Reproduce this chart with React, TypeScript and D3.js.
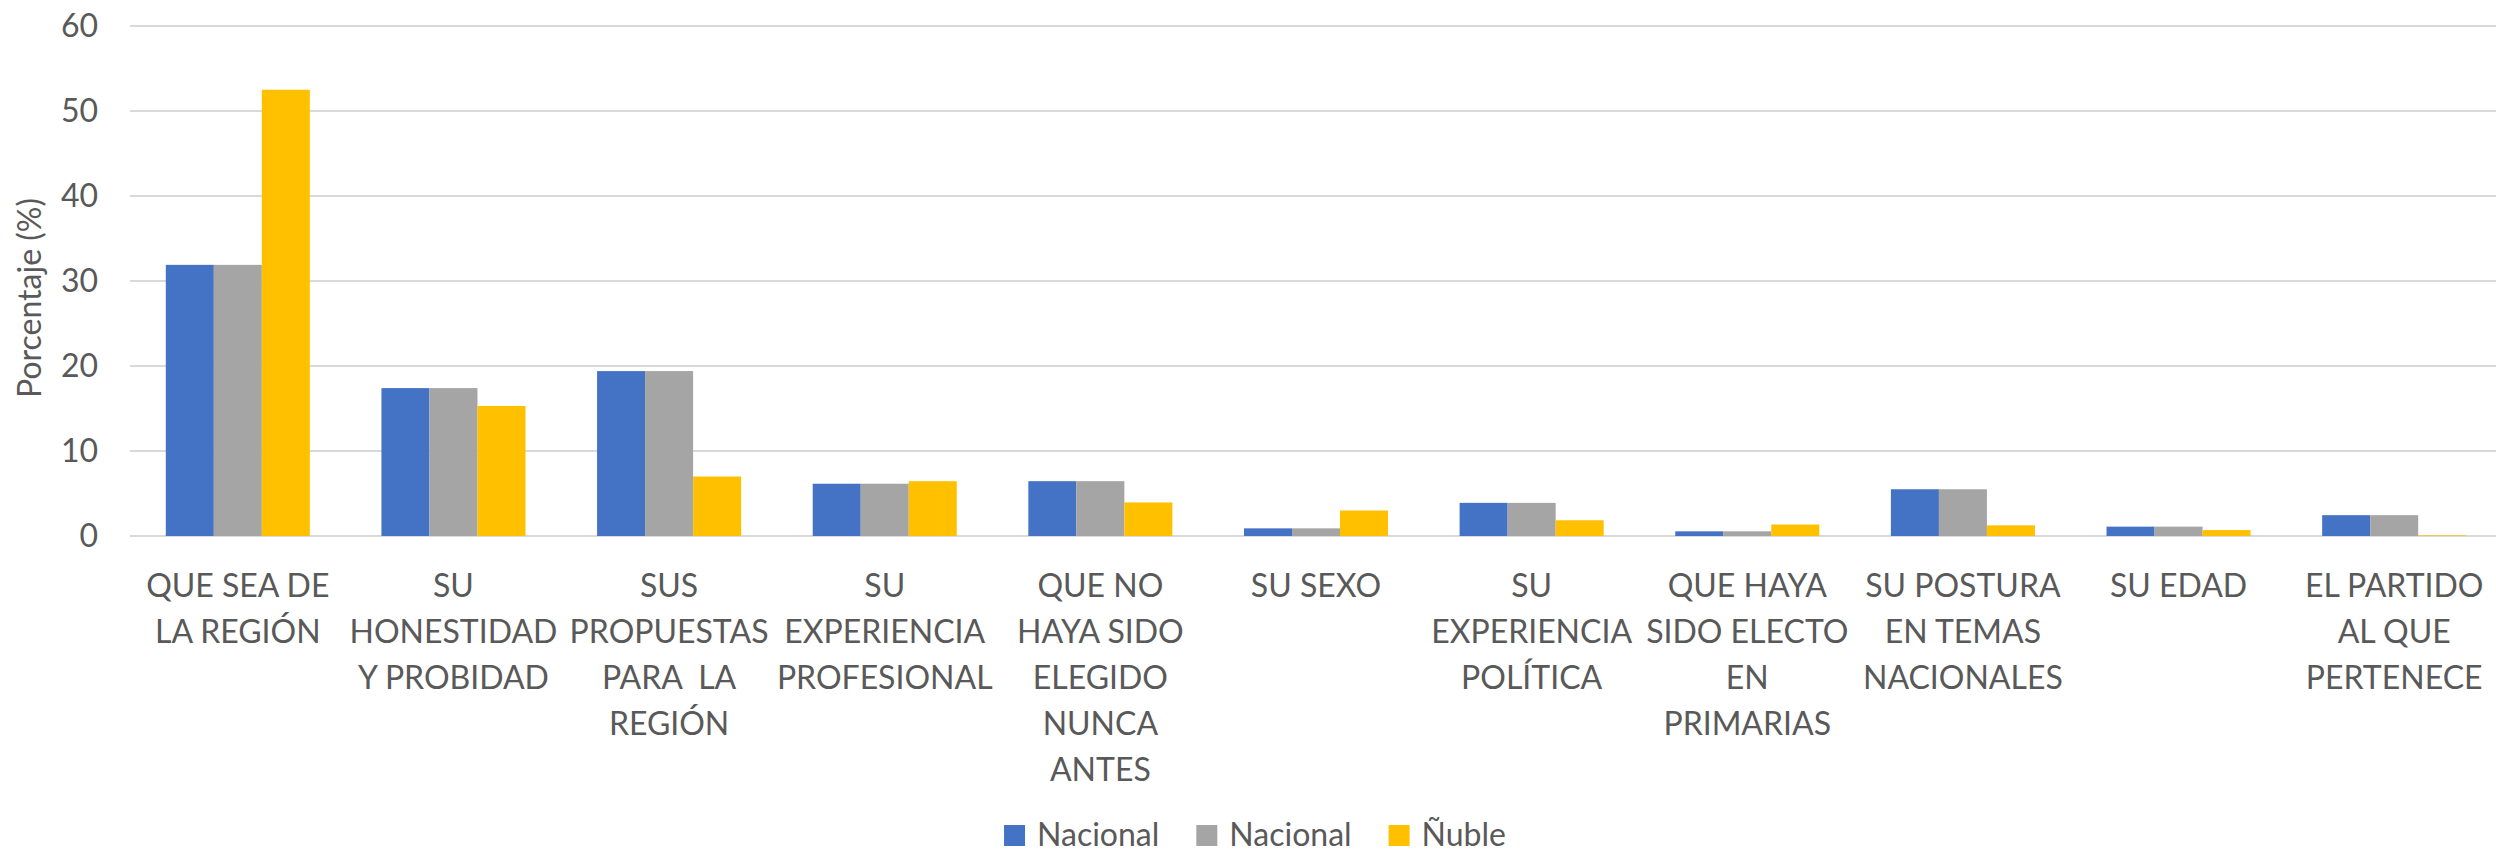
import React, { useEffect, useRef } from "react";
import * as d3 from "d3";

const categories = [
  "QUE SEA DE LA REGIÓN",
  "SU HONESTIDAD Y PROBIDAD",
  "SUS PROPUESTAS PARA LA REGIÓN",
  "SU EXPERIENCIA PROFESIONAL",
  "QUE NO HAYA SIDO ELEGIDO NUNCA ANTES",
  "SU SEXO",
  "SU EXPERIENCIA POLÍTICA",
  "QUE HAYA SIDO ELECTO EN PRIMARIAS",
  "SU POSTURA EN TEMAS NACIONALES",
  "SU EDAD",
  "EL PARTIDO AL QUE PERTENECE",
];

const labelLines = [
  ["QUE SEA DE", "LA REGIÓN"],
  ["SU", "HONESTIDAD", "Y PROBIDAD"],
  ["SUS", "PROPUESTAS", "PARA  LA", "REGIÓN"],
  ["SU", "EXPERIENCIA", "PROFESIONAL"],
  ["QUE NO", "HAYA SIDO", "ELEGIDO", "NUNCA", "ANTES"],
  ["SU SEXO"],
  ["SU", "EXPERIENCIA", "POLÍTICA"],
  ["QUE HAYA", "SIDO ELECTO", "EN", "PRIMARIAS"],
  ["SU POSTURA", "EN TEMAS", "NACIONALES"],
  ["SU EDAD"],
  ["EL PARTIDO", "AL QUE", "PERTENECE"],
];

const nacionalA = [31.9, 17.4, 19.4, 6.15, 6.45, 0.9, 3.9, 0.55, 5.5, 1.1, 2.45];
const nacionalB = [31.9, 17.4, 19.4, 6.15, 6.45, 0.9, 3.9, 0.55, 5.5, 1.1, 2.45];
const nuble = [52.5, 15.3, 7.0, 6.45, 3.95, 3.0, 1.85, 1.35, 1.25, 0.7, 0.08];

const seriesNames = ["Nacional", "Nacional", "Ñuble"];
const seriesColors = ["#4472C4", "#A5A5A5", "#FFC000"];
const yTicks = [0, 10, 20, 30, 40, 50, 60];
const yTitle = "Porcentaje (%)";

const W = 2496;
const H = 851;
const FONT = "Lato, 'Open Sans', sans-serif";
const FS = 32;
const TEXT = "#595959";

export default function App() {
  const ref = useRef<SVGSVGElement | null>(null);

  useEffect(() => {
    const svg = d3.select(ref.current);
    svg.selectAll("*").remove();

    const series = [nacionalA, nacionalB, nuble];

    const x0 = d3
      .scaleBand<string>()
      .domain(categories)
      .range([130, 2502])
      .paddingInner(0.332)
      .paddingOuter(0.166);
    const x1 = d3
      .scaleBand<string>()
      .domain(series.map((_, i) => String(i)))
      .range([0, x0.bandwidth()]);
    const y = d3.scaleLinear().domain([0, 60]).range([536, 26]);

    // gridlines
    svg
      .append("g")
      .selectAll("line")
      .data(yTicks)
      .join("line")
      .attr("x1", 130)
      .attr("x2", W)
      .attr("y1", (d) => y(d))
      .attr("y2", (d) => y(d))
      .attr("stroke", "#D9D9D9")
      .attr("stroke-width", 2);

    // tick labels
    svg
      .append("g")
      .selectAll("text")
      .data(yTicks)
      .join("text")
      .attr("x", 98)
      .attr("y", (d) => y(d))
      .attr("dy", "0.35em")
      .attr("text-anchor", "end")
      .attr("font-family", FONT)
      .attr("font-size", FS)
      .attr("fill", TEXT)
      .text((d) => String(d));

    // y title
    svg
      .append("text")
      .attr("transform", `translate(30, ${y(28)}) rotate(-90)`)
      .attr("text-anchor", "middle")
      .attr("dy", "0.35em")
      .attr("font-family", FONT)
      .attr("font-size", FS)
      .attr("fill", TEXT)
      .text(yTitle);

    // bars
    const groups = svg
      .append("g")
      .selectAll("g")
      .data(categories)
      .join("g")
      .attr("transform", (d) => `translate(${x0(d)},0)`);

    groups
      .selectAll("rect")
      .data((_, ci) => series.map((s, si) => ({ si, v: s[ci] })))
      .join("rect")
      .attr("x", (d) => x1(String(d.si)) as number)
      .attr("width", x1.bandwidth())
      .attr("y", (d) => y(d.v))
      .attr("height", (d) => y(0) - y(d.v))
      .attr("fill", (d) => seriesColors[d.si]);

    // category labels
    const lab = svg
      .append("g")
      .selectAll("text")
      .data(categories)
      .join("text")
      .attr("x", (d) => (x0(d) as number) + x0.bandwidth() / 2)
      .attr("y", 597)
      .attr("text-anchor", "middle")
      .attr("font-family", FONT)
      .attr("font-size", FS)
      .attr("fill", TEXT)
      .style("white-space", "pre");
    lab
      .selectAll("tspan")
      .data((_, i) => labelLines[i])
      .join("tspan")
      .attr("x", function () {
        return (this.parentNode as SVGTextElement).getAttribute("x");
      })
      .attr("dy", (_, i) => (i === 0 ? 0 : 46))
      .text((d) => d);

    // legend
    const leg = svg.append("g");
    const items = seriesNames.map((name, i) => {
      const g = leg.append("g");
      g.append("rect")
        .attr("x", 0)
        .attr("y", 825)
        .attr("width", 21)
        .attr("height", 21)
        .attr("fill", seriesColors[i]);
      const t = g
        .append("text")
        .attr("x", 33)
        .attr("y", 846)
        .attr("font-family", FONT)
        .attr("font-size", FS)
        .attr("fill", TEXT)
        .text(name);
      const w = (t.node() as SVGTextElement).getComputedTextLength();
      return { g, w: 33 + w };
    });
    const gap = 37;
    const total = items.reduce((a, b) => a + b.w, 0) + gap * (items.length - 1);
    let cx = 1255 - total / 2;
    items.forEach((it) => {
      it.g.attr("transform", `translate(${cx},0)`);
      cx += it.w + gap;
    });
  }, []);

  return (
    <svg
      ref={ref}
      width={W}
      height={H}
      style={{ position: "absolute", left: 0, top: 0, background: "#fff" }}
    />
  );
}
